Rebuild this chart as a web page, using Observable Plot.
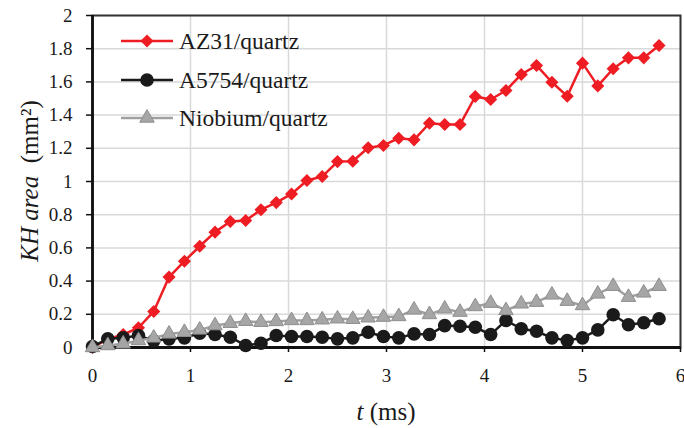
<!DOCTYPE html>
<html><head><meta charset="utf-8">
<script src="https://cdn.jsdelivr.net/npm/d3@7"></script>
<script src="https://cdn.jsdelivr.net/npm/@observablehq/plot@0.6"></script>
<style>
body{margin:0;background:#fff}
#wrap{position:relative;width:684px;height:428px}
#labels{position:absolute;left:0;top:0;z-index:2;pointer-events:none}
#chart{position:absolute;left:0;top:0;z-index:1}
</style>
</head><body>
<div id="wrap">
<div id="chart"></div>
<svg id="labels" width="684" height="428" font-family="Liberation Serif" fill="#1a1a1a">
  <text x="386" y="420" text-anchor="middle" font-size="25"><tspan font-style="italic">t</tspan> (ms)</text>
  <text transform="translate(38,181) rotate(-90)" text-anchor="middle" font-size="25"><tspan font-style="italic">KH area</tspan>&#160; (mm²)</text>
  <text id="lg0" x="179" y="41" dy="0.35em" font-size="23.5">AZ31/quartz</text>
  <text id="lg1" x="179" y="80" dy="0.35em" font-size="23.5">A5754/quartz</text>
  <text id="lg2" x="179" y="118" dy="0.35em" font-size="23.5">Niobium/quartz</text>
</svg>
</div>
<script>
const times = [0, 0.156, 0.313, 0.469, 0.625, 0.781, 0.938, 1.094, 1.25, 1.406, 1.563, 1.719, 1.875, 2.031, 2.188, 2.344, 2.5, 2.656, 2.813, 2.969, 3.125, 3.281, 3.438, 3.594, 3.75, 3.906, 4.063, 4.219, 4.375, 4.531, 4.688, 4.844, 5.0, 5.156, 5.313, 5.469, 5.625, 5.781];
const az31 = [0.0, 0.05, 0.078, 0.119, 0.217, 0.424, 0.52, 0.61, 0.695, 0.759, 0.765, 0.83, 0.873, 0.925, 1.006, 1.03, 1.12, 1.122, 1.203, 1.217, 1.261, 1.251, 1.351, 1.343, 1.343, 1.512, 1.494, 1.548, 1.645, 1.699, 1.598, 1.514, 1.713, 1.576, 1.679, 1.745, 1.745, 1.819];
const a5754 = [0.006, 0.052, 0.058, 0.072, 0.04, 0.052, 0.058, 0.086, 0.078, 0.062, 0.012, 0.026, 0.072, 0.066, 0.066, 0.062, 0.052, 0.058, 0.092, 0.066, 0.058, 0.082, 0.078, 0.132, 0.128, 0.122, 0.078, 0.163, 0.113, 0.098, 0.058, 0.042, 0.058, 0.106, 0.197, 0.137, 0.149, 0.173];
const niobium = [0.0, 0.012, 0.022, 0.042, 0.058, 0.082, 0.092, 0.106, 0.132, 0.146, 0.158, 0.152, 0.157, 0.163, 0.163, 0.167, 0.173, 0.17, 0.179, 0.183, 0.187, 0.227, 0.199, 0.233, 0.213, 0.247, 0.267, 0.223, 0.263, 0.273, 0.317, 0.279, 0.253, 0.323, 0.369, 0.303, 0.329, 0.369];
const seriesNames = ["AZ31/quartz", "A5754/quartz", "Niobium/quartz"];
const xTicks = [0, 1, 2, 3, 4, 5, 6];
const yTicks = [0, 0.2, 0.4, 0.6, 0.8, 1, 1.2, 1.4, 1.6, 1.8, 2];

const styles = [
  {name: seriesNames[0], vals: az31, stroke: "#ee1d24", fill: "#ee1d24", symbol: "diamond2", r: 5.9, dotStroke: "none"},
  {name: seriesNames[1], vals: a5754, stroke: "#1a1a1a", fill: "#1a1a1a", symbol: "circle", r: 6.8, dotStroke: "none"},
  {name: seriesNames[2], vals: niobium, stroke: "#a0a0a0", fill: "#a6a6a6", symbol: "triangle", r: 5.4, dotStroke: "#8f8f8f"}
];

const FF = "Liberation Serif";

const marks = [
  Plot.gridY(yTicks, {stroke: "#d9d9d9", strokeOpacity: 1, strokeWidth: 1.5}),
  Plot.gridX(xTicks, {stroke: "#d9d9d9", strokeOpacity: 1, strokeWidth: 1.5}),
  Plot.frame({stroke: "#333", strokeWidth: 2}),
  Plot.ruleX([0], {stroke: "#111", strokeWidth: 2.8}),
  Plot.ruleY([0], {stroke: "#111", strokeWidth: 2.8}),
  Plot.axisY(yTicks, {tickSize: 6, tickPadding: 14, fontSize: 19, fontFamily: FF, tickFormat: d => String(+d.toFixed(1)), label: null, stroke: "#111", strokeWidth: 1.5}),
  Plot.axisX(xTicks, {tickSize: 5, tickPadding: 16, fontSize: 19, fontFamily: FF, label: null, stroke: "#111", strokeWidth: 1.5})
];
for (const s of styles) {
  const data = times.map((t, i) => ({t, v: s.vals[i]}));
  marks.push(Plot.line(data, {x: "t", y: "v", stroke: s.stroke, strokeWidth: 2.5}));
  marks.push(Plot.dot(data, {x: "t", y: "v", fill: s.fill, stroke: s.dotStroke, strokeWidth: 1, symbol: s.symbol, r: s.r}));
}

const plot = Plot.plot({
  width: 684, height: 428,
  marginLeft: 92, marginRight: 4, marginTop: 15, marginBottom: 81,
  x: {domain: [0, 6]},
  y: {domain: [0, 2]},
  style: {fontFamily: FF, color: "#1a1a1a", background: "#fff"},
  marks
});
document.getElementById("chart").appendChild(plot);

const svg = d3.select(plot);
svg.attr("font-family", FF);
svg.selectAll("text, tspan").attr("font-family", FF);

// legend samples (line + symbol); texts are in the static overlay
const lg = svg.append("g");
const rowsY = [41, 80, 118];
styles.forEach((s, i) => {
  const y = rowsY[i];
  lg.append("line").attr("x1", 121).attr("x2", 173).attr("y1", y).attr("y2", y).attr("stroke", s.stroke).attr("stroke-width", 2.5);
  const sym = {diamond2: d3.symbolDiamond2, circle: d3.symbolCircle, triangle: d3.symbolTriangle}[s.symbol];
  lg.append("path").attr("d", d3.symbol(sym, Math.PI * s.r * s.r)()).attr("transform", `translate(147,${y})`)
    .attr("fill", s.fill).attr("stroke", s.dotStroke === "none" ? null : s.dotStroke);
  document.getElementById("lg" + i).textContent = s.name;
});
</script>
</body></html>
